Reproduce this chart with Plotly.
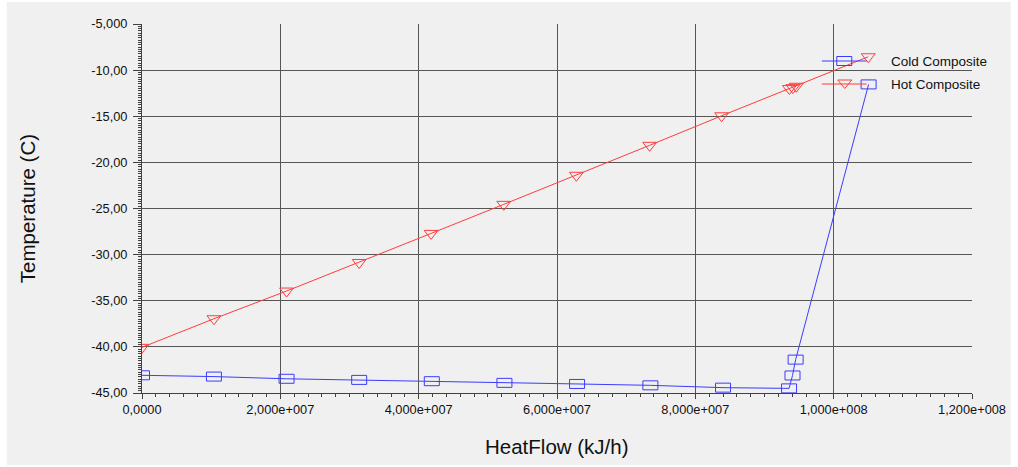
import plotly.graph_objects as go

# Composite curve data
heat_cold = [0, 1.04e7, 2.09e7, 3.14e7, 4.19e7, 5.24e7, 6.29e7, 7.35e7, 8.40e7,
             9.355e7, 9.405e7, 9.45e7, 1.0505e8]
temp_cold = [-43.08, -43.22, -43.46, -43.58, -43.72, -43.9, -44.02, -44.17, -44.42,
             -44.5, -43.1, -41.38, -11.55]

heat_hot = [0, 1.04e7, 2.09e7, 3.14e7, 4.18e7, 5.23e7, 6.28e7, 7.34e7, 8.38e7,
            9.36e7, 9.41e7, 9.46e7, 1.05e8]
temp_hot = [-40.05, -36.95, -33.95, -30.85, -27.7, -24.55, -21.4, -18.15, -14.95,
            -12.0, -11.9, -11.75, -8.55]

x_range = [0, 1.2e8]
y_range = [-45, -5]
x_ticks = [0, 2e7, 4e7, 6e7, 8e7, 1e8, 1.2e8]
x_tick_text = ["0,0000", "2,000e+007", "4,000e+007", "6,000e+007",
               "8,000e+007", "1,000e+008", "1,200e+008"]
y_ticks = [-45, -40, -35, -30, -25, -20, -15, -10, -5]
y_tick_text = ["-45,00", "-40,00", "-35,00", "-30,00", "-25,00",
               "-20,00", "-15,00", "-10,00", "-5,000"]
x_major_step = 2e7
y_major_step = 5
x_minor_step = 2e6
y_minor_step = 0.25

series_names = ["Cold Composite", "Hot Composite"]

W, H = 1018, 467
L, R, T, B = 142, 41, 24, 74
PW, PH = W - L - R, H - T - B

BLUE = "#3c3cff"
RED = "#ff3c3c"
GRID = "#555555"
AXIS = "#404040"
BG = "#f0f0f0"
FONT = "Liberation Sans, Arial, sans-serif"


def px_x(p):
    return (p - L) / PW


def px_y(p):
    return (H - B - p) / PH


# map the default number formatting onto the printed tick texts
x_alias = {f"{v:.0f}": t for v, t in zip(x_ticks, x_tick_text)}
y_alias = {}
for v, t in zip(y_ticks, y_tick_text):
    key = f"{abs(v):.2f}".replace(".", ",")
    y_alias["-" + key] = t
    y_alias["\u2212" + key] = t

fig = go.Figure()

fig.add_trace(go.Scatter(
    x=heat_cold, y=temp_cold, mode="lines",
    line=dict(color=BLUE, width=1), name=series_names[0], showlegend=False,
))
fig.add_trace(go.Scatter(
    x=heat_hot, y=temp_hot, mode="lines+markers",
    line=dict(color=RED, width=1),
    marker=dict(symbol="triangle-down-open", size=12, color=RED,
                line=dict(color=RED, width=1)),
    name=series_names[1], showlegend=False,
))

shapes = []
# outer frame
shapes.append(dict(type="rect", xref="paper", yref="paper",
                   x0=px_x(6), x1=px_x(W - 2), y0=px_y(H - 2), y1=px_y(2),
                   fillcolor=BG, line=dict(width=0), layer="below"))

# rectangular markers for the cold composite
for xv, yv in zip(heat_cold, temp_cold):
    shapes.append(dict(type="rect", xref="x", yref="y",
                       xsizemode="pixel", ysizemode="pixel",
                       xanchor=xv, yanchor=yv, x0=-7.5, x1=7.5, y0=-4.5, y1=4.5,
                       line=dict(color=BLUE, width=1), fillcolor="rgba(0,0,0,0)",
                       layer="above"))

# legend symbols
leg_rows = [61, 84]
for row, color in zip(leg_rows, [BLUE, RED]):
    shapes.append(dict(type="line", xref="paper", yref="paper",
                       x0=px_x(826), x1=px_x(871), y0=px_y(row), y1=px_y(row),
                       line=dict(color=color, width=1), layer="above"))
shapes.append(dict(type="rect", xref="paper", yref="paper",
                   xsizemode="pixel", ysizemode="pixel",
                   xanchor=px_x(848.5), yanchor=px_y(leg_rows[0]),
                   x0=-7.5, x1=7.5, y0=-4.5, y1=4.5,
                   line=dict(color=BLUE, width=1), fillcolor="rgba(0,0,0,0)",
                   layer="above"))
shapes.append(dict(type="path", xref="paper", yref="paper",
                   xsizemode="pixel", ysizemode="pixel",
                   xanchor=px_x(849), yanchor=px_y(leg_rows[1]),
                   path="M-7,4 L7,4 L0,-4.5 Z",
                   line=dict(color=RED, width=1), fillcolor="rgba(0,0,0,0)",
                   layer="above"))

annotations = []
for row, name in zip(leg_rows, series_names):
    annotations.append(dict(x=px_x(894), y=px_y(row), xref="paper", yref="paper",
                            xanchor="left", yanchor="middle", showarrow=False,
                            text=name, font=dict(family=FONT, size=13.5, color="#111")))
annotations.append(dict(x=px_x(27), y=0.5, xref="paper", yref="paper",
                        xanchor="center", yanchor="middle", showarrow=False,
                        textangle=-90, text="Temperature (C)",
                        font=dict(family=FONT, size=20.5, color="#111")))
annotations.append(dict(x=0.5, y=px_y(447), xref="paper", yref="paper",
                        xanchor="center", yanchor="middle", showarrow=False,
                        text="HeatFlow (kJ/h)",
                        font=dict(family=FONT, size=20.5, color="#111")))

axis_common = dict(
    showgrid=True, gridcolor=GRID, gridwidth=1,
    showline=True, linecolor=AXIS, linewidth=1,
    zeroline=False, ticks="outside", tickcolor=AXIS, tickwidth=1,
    tickmode="linear", tickfont=dict(family=FONT, size=12.8, color="#111"),
)

fig.update_layout(
    width=W, height=H, autosize=False,
    margin=dict(l=L, r=R, t=T, b=B, pad=0),
    paper_bgcolor="white", plot_bgcolor=BG,
    separators=",.",
    showlegend=False,
    shapes=shapes, annotations=annotations,
    xaxis=dict(range=x_range, tick0=x_range[0], dtick=x_major_step,
               tickformat=".0f", labelalias=x_alias, ticklen=5,
               minor=dict(tickmode="linear", tick0=0, dtick=x_minor_step,
                          ticks="outside", ticklen=3, tickcolor=AXIS,
                          tickwidth=1, showgrid=False),
               **axis_common),
    yaxis=dict(range=y_range, tick0=y_range[0], dtick=y_major_step,
               tickformat=".2f", labelalias=y_alias, ticklen=8,
               ticklabelstandoff=3,
               minor=dict(tickmode="linear", tick0=y_range[0], dtick=y_minor_step,
                          ticks="outside", ticklen=3, tickcolor=AXIS,
                          tickwidth=1, showgrid=False),
               **axis_common),
)

fig.write_html("out.html")
